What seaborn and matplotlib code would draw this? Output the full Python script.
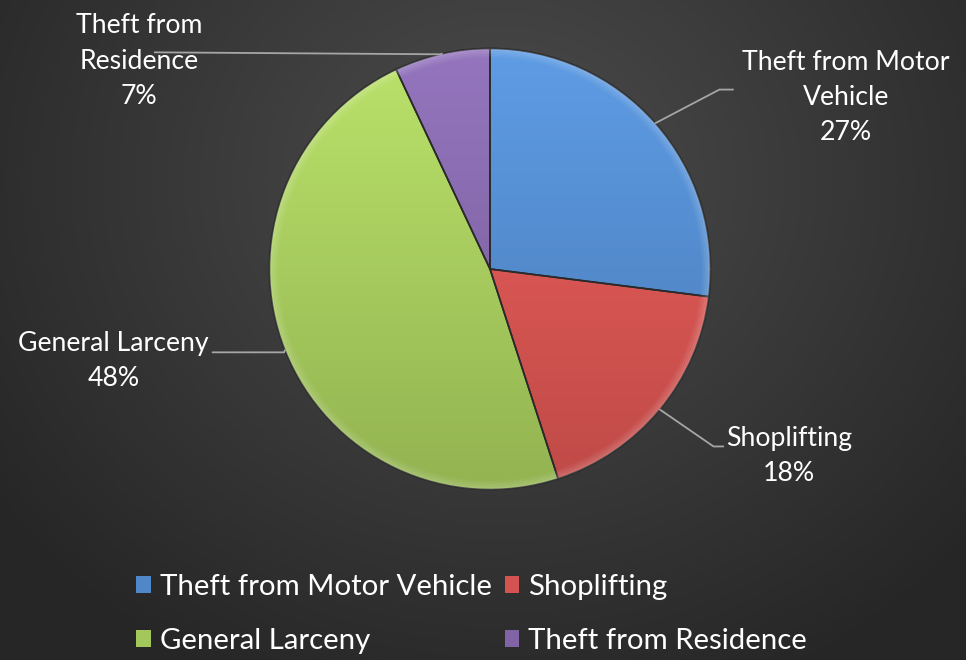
import numpy as np
import matplotlib
matplotlib.use("Agg")
import matplotlib.pyplot as plt
import matplotlib.colors as mcolors
from matplotlib.patches import Patch
import seaborn as sns

# Larceny breakdown (percent of offences)
categories = ["Theft from Motor Vehicle", "Shoplifting", "General Larceny", "Theft from Residence"]
shares = [27, 18, 48, 7]
slice_colors = ["#4f87c9", "#d4524f", "#a3c75a", "#8064a6"]

sns.set_theme(style="white")
plt.rcParams["font.family"] = ["Lato", "DejaVu Sans"]

W, H = 966, 660
fig = plt.figure(figsize=(W / 100, H / 100), dpi=100)

# dark radial background, lightest towards upper centre
bg = fig.add_axes([0, 0, 1, 1], zorder=-10)
yy, xx = np.mgrid[0:H, 0:W]
d = np.sqrt(((xx - 500) / 620.0) ** 2 + ((yy - 180) / 560.0) ** 2)
d = np.clip(d, 0, 1)
lo, hi = np.array([0.30, 0.30, 0.30]), np.array([0.15, 0.15, 0.15])
img = lo[None, None, :] * (1 - d[..., None]) + hi[None, None, :] * d[..., None]
bg.imshow(img, extent=[0, W, H, 0], aspect="auto")
bg.set_axis_off()

# pie: circle of radius 225 px centred at (490, 269)
cx, cy, R = 490, 269, 225
ax = fig.add_axes([(cx - R) / W, (H - cy - R) / H, 2 * R / W, 2 * R / H])
wedges, _ = ax.pie(shares, colors=slice_colors, startangle=90, counterclock=False,
                   radius=1.0, wedgeprops=dict(edgecolor="#2a2a2a", linewidth=1.2))
ax.set_xlim(-1.02, 1.02)
ax.set_ylim(-1.02, 1.02)
ax.set_aspect("equal")
ax.set_axis_off()

# vertical light-to-dark shading inside each slice
g = np.linspace(0, 1, 256)[:, None]
for w, c in zip(wedges, slice_colors):
    rgb = np.array(mcolors.to_rgb(c))
    top = np.clip(rgb * 1.1 + 0.03, 0, 1)
    bot = rgb * 0.9
    shade = top[None, None, :] * (1 - g[..., None]) + bot[None, None, :] * g[..., None]
    shade = np.repeat(shade, 4, axis=1)
    im = ax.imshow(shade, extent=[-1, 1, -1, 1], origin="upper", zorder=1.5, aspect="auto")
    im.set_clip_path(w)
    w.set_zorder(2)
    w.set_facecolor("none")

# soft bevel highlight around the rim
theta = np.linspace(0, 2 * np.pi, 400)
for k, a in enumerate(np.linspace(0.16, 0.0, 6)):
    r = 0.995 - k * 0.008
    ax.plot(r * np.cos(theta), r * np.sin(theta), color="white", alpha=a, lw=1.6, zorder=2.5)


def px(x, y):
    return (x - cx) / R, (cy - y) / R


# slice labels with leader lines
ang = 90.0
label_layout = [
    # text lines, text centre x, first line y, elbow, end
    (["Theft from Motor", "Vehicle", "{}%"], 853, 58, (724, 86), (738, 86)),
    (["Shoplifting", "{}%"], 795, 442, (718, 450), (728, 450)),
    (["General Larceny", "{}%"], 106, 345, (280, 354), (207, 354)),
    (["Theft from", "Residence", "{}%"], 132, 21, (439, 50), (148, 48)),
]
for v, (lines, tx, ty, elbow, end) in zip(shares, label_layout):
    mid = np.deg2rad(ang - v * 3.6 / 2)
    ang -= v * 3.6
    sx, sy = np.cos(mid), np.sin(mid)
    ex, ey = px(*elbow)
    fx, fy = px(*end)
    ax.plot([sx, ex, fx], [sy, ey, fy], color="#a6a6a6", lw=1.3, clip_on=False, zorder=3)
    for i, t in enumerate(lines):
        lx, ly = px(tx, ty + 36 * i)
        ax.text(lx, ly, t.format(v), color="white", fontsize=19.2, ha="center", va="center",
                clip_on=False)

# legend, filled row by row
handles = [Patch(facecolor=c, edgecolor="none") for c in slice_colors]
order = [0, 2, 1, 3]
fig.legend([handles[i] for i in order], [categories[i] for i in order], ncol=2,
           loc="center left", bbox_to_anchor=(136 / W, 1 - 614 / H), frameon=False,
           fontsize=21.2, labelcolor="white", handlelength=0.5, handleheight=0.5,
           handletextpad=0.3, columnspacing=0.45, labelspacing=0.95,
           borderpad=0, borderaxespad=0)

fig.savefig("out.png", dpi=100)
